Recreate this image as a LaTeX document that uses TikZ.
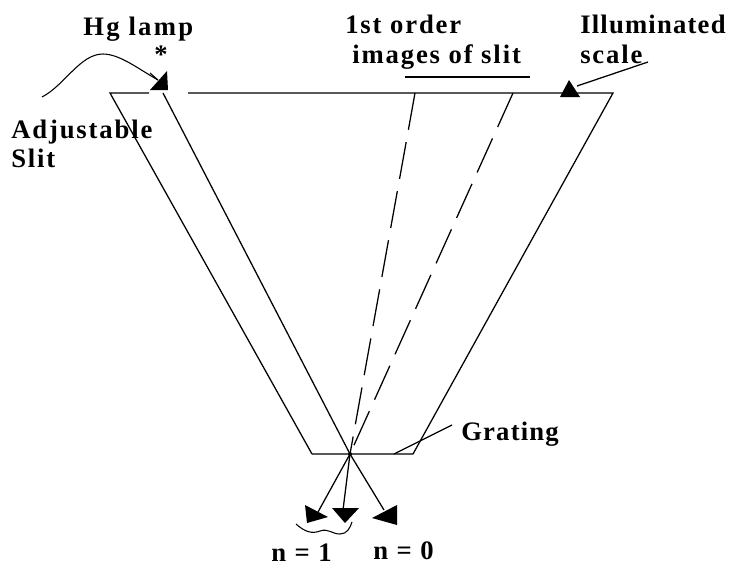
\documentclass[tikz,border=0pt]{standalone}
\usepackage{fontspec}
\setmainfont{Liberation Serif}[BoldFont={Liberation Serif Bold}]
\newfontfamily\lbl{Liberation Serif Bold}[LetterSpace=7]
\newfontfamily\lblw{Liberation Serif Bold}[LetterSpace=8.5]
\newfontfamily\lbln{Liberation Serif Bold}[LetterSpace=4.5]
\begin{document}
\begin{tikzpicture}[x=0.75pt,y=-0.75pt,
  lab/.style={font=\lbl\fontsize{20}{22}\selectfont,inner sep=0pt,anchor=base west,align=left},
  labw/.style={font=\lblw\fontsize{20}{22}\selectfont,inner sep=0pt,anchor=base west,align=left},
  labn/.style={font=\lbln\fontsize{20}{22}\selectfont,inner sep=0pt,anchor=base west,align=left},
  ln/.style={draw=black,line width=0.95pt},
  dashline/.style={draw=black,line width=0.95pt,dash pattern=on 28pt off 9.4pt},
  tri/.style={fill=black,draw=none}]
\useasboundingbox (0,0) rectangle (730,565);
% coordinates
\coordinate (tl) at (110,93);
\coordinate (gapl) at (149,93);
\coordinate (gapr) at (188,93);
\coordinate (tr) at (613,93);
\coordinate (tm) at (163,93);
\coordinate (bl) at (312,454);
\coordinate (br) at (413,454);
\coordinate (g) at (350,454);
\coordinate (d1) at (415,93);
\coordinate (d2) at (513,93);
\coordinate (a1) at (318,512);
\coordinate (a2) at (343,510);
\coordinate (a3) at (384,510);
% trapezoid
\draw[ln] (bl) -- (tl) -- (gapl);
\draw[ln] (gapr) -- (tr) -- (br) -- (bl);
\draw[ln] (tm) -- (g) -- (a3);
\draw[ln] (g) -- (a1);
\draw[ln] (g) -- (a2);
\draw[dashline] (d1) -- (g);
\draw[dashline] (d2) -- (g);
\fill (g) circle (2);
% triangles
\fill[tri] (150,90) -- (168,90) -- (167,71) -- cycle;
\fill[tri] (560,97) -- (580,97) -- (569,80) -- cycle;
\fill[tri] (305,505) -- (328,517) -- (307,523) -- cycle;
\fill[tri] (332,508) -- (359,508) -- (345,523) -- cycle;
\fill[tri] (372,518) -- (397,505) -- (397,525) -- cycle;
% curve to lamp
\coordinate (c0) at (42,97);
\coordinate (c1) at (158,80);
\draw[draw=black,line width=0.8pt] (c0) .. controls (65,85) and (80,54) .. (103,54) .. controls (120,54) and (140,70) .. (c1);
\draw[draw=black,line width=0.8pt] (150,73) -- (c1);
% leaders
\coordinate (s1) at (577,86);
\coordinate (s2) at (648,62);
\draw[ln] (s1) -- (s2);
\coordinate (u1) at (405,77);
\coordinate (u2) at (530,77);
\draw[ln] (u1) -- (u2);
\coordinate (gr1) at (394,454);
\coordinate (gr2) at (452,425);
\draw[ln] (gr1) -- (gr2);
% brace wave
\coordinate (w1) at (296,524);
\coordinate (w2) at (352,522);
\draw[draw=black,line width=0.8pt] (w1) .. controls (305,532) and (312,534) .. (320,531) .. controls (328,528) and (332,534) .. (340,534) .. controls (347,534) and (350,528) .. (w2);
% texts
\node[labw] (hg) at (83,35) {Hg lamp};
\node[inner sep=0pt,font=\bfseries\fontsize{20}{20}\selectfont] (star) at (161,55) {*};
\node[lab] (adj) at (11,138) {Adjustable};
\node[lab] (sl) at (11,167) {Slit};
\node[lab] (ord) at (345,33) {1st order};
\node[lab] (img) at (352,63) {images of slit};
\node[labn] (ill) at (580,33) {Illuminated};
\node[lab] (sc) at (580,63) {scale};
\node[labn] (gt) at (461,440) {Grating};
\node[lab] (n1) at (271,561) {n = 1};
\node[lab] (n0) at (373,559) {n = 0};
\end{tikzpicture}
\end{document}
